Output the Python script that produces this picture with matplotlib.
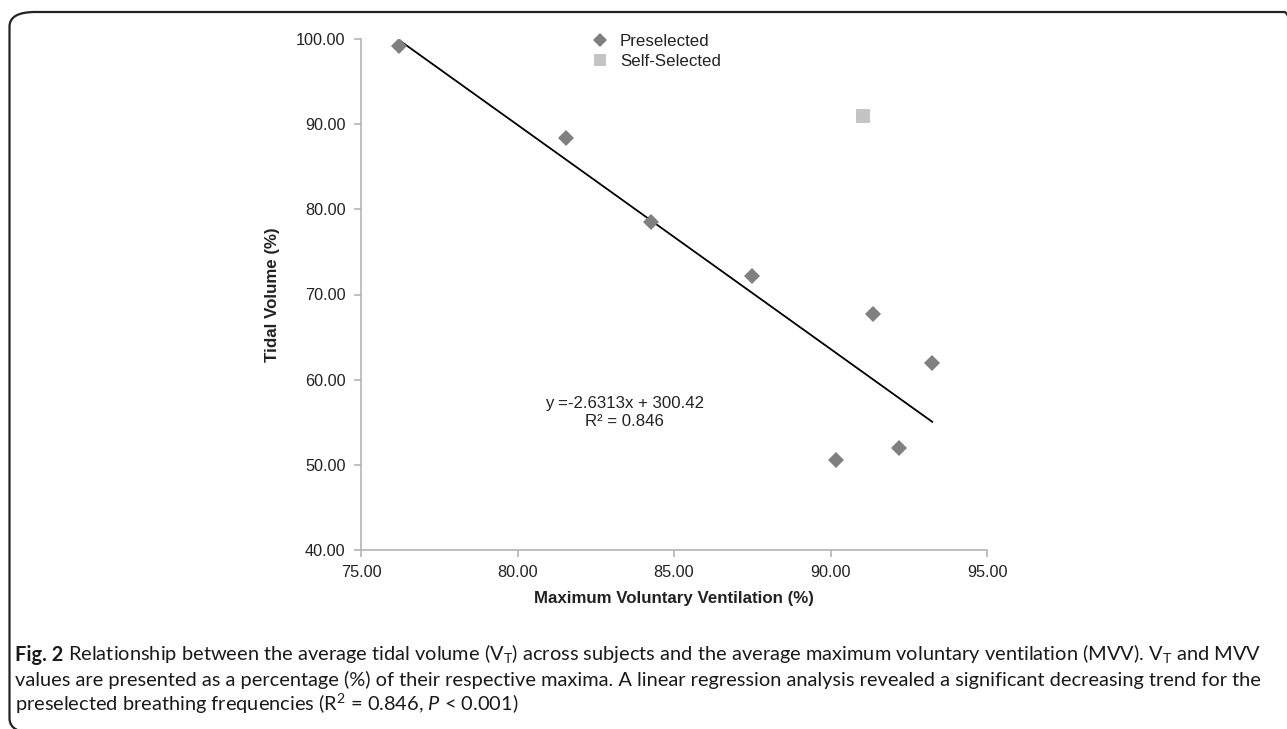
import matplotlib
matplotlib.use("Agg")
import matplotlib.pyplot as plt
import numpy as np
from matplotlib.patches import FancyBboxPatch
from matplotlib.lines import Line2D

# ---- data ----
pre_x = [76.21, 81.55, 84.27, 87.48, 91.37, 93.25, 92.19, 90.19]
pre_y = [99.21, 88.40, 78.55, 72.17, 67.71, 62.00, 51.94, 50.57]
self_x = [91.05]
self_y = [91.00]
slope, intercept = -2.6313, 300.42
x_ticks = [75, 80, 85, 90, 95]
y_ticks = [40, 50, 60, 70, 80, 90, 100]
series_names = ["Preselected", "Self-Selected"]

plt.rcParams['font.family'] = ['Liberation Sans', 'DejaVu Sans']
plt.rcParams['mathtext.fontset'] = 'custom'
plt.rcParams['mathtext.rm'] = 'Lato'
plt.rcParams['mathtext.it'] = 'Lato:italic'

W, H = 1287, 729
fig = plt.figure(figsize=(W / 100, H / 100), dpi=100)

# outer rounded frame (right side falls outside the image)
frame = FancyBboxPatch((9.5 / W, 1 - 733 / H), (1310 - 9.5) / W, (733 - 12) / H,
                       boxstyle="round,pad=0,rounding_size=0.02",
                       transform=fig.transFigure, fill=False,
                       edgecolor='#222222', linewidth=1.6, clip_on=False)
fig.patches.append(frame)

ax = fig.add_axes([361 / W, 1 - 550 / H, (987 - 361) / W, (550 - 39) / H])
ax.set_xlim(75, 95)
ax.set_ylim(40, 100)

spine_c = '#b4b4b4'
for s in ['top', 'right']:
    ax.spines[s].set_visible(False)
for s in ['left', 'bottom']:
    ax.spines[s].set_color(spine_c)
    ax.spines[s].set_linewidth(1.2)
ax.set_xticks(x_ticks)
ax.set_yticks(y_ticks)
ax.set_xticklabels([f"{v:.2f}" for v in x_ticks])
ax.set_yticklabels([f"{v:.2f}" for v in y_ticks])
ax.tick_params(axis='both', colors=spine_c, labelcolor='#222222', labelsize=11.7,
               length=5, width=1.2, direction='out')
ax.tick_params(axis='x', pad=6)
ax.tick_params(axis='y', pad=6)

# trendline
xl = np.array([min(pre_x), max(pre_x)])
ax.plot(xl, slope * xl + intercept, color='black', linewidth=1.3, zorder=2)

ax.plot(pre_x, pre_y, linestyle='none', marker='D', markersize=8.5,
        color='#808080', markeredgewidth=0, zorder=3)
ax.plot(self_x, self_y, linestyle='none', marker='s', markersize=9.5,
        color='#c4c4c4', markeredgewidth=0, zorder=3)

ax.text(83.42, 56.15, f"y =-{abs(slope):.4f}x + {intercept:.2f}\nR² = 0.846",
        ha='center', va='center', fontsize=12.1, color='#222222', linespacing=1.25)

ax.set_xlabel("Maximum Voluntary Ventilation (%)", fontsize=12.2, fontweight='bold',
              color='#222222', labelpad=8)
ax.set_ylabel("Tidal Volume (%)", fontsize=12.2, fontweight='bold',
              color='#222222', labelpad=12)

handles = [Line2D([], [], linestyle='none', marker='D', markersize=7.5, color='#808080', markeredgewidth=0),
           Line2D([], [], linestyle='none', marker='s', markersize=8.5, color='#c4c4c4', markeredgewidth=0)]
fig.legend(handles, series_names, loc='upper left',
           bbox_to_anchor=(592 / W, 1 - 34 / H), frameon=False, fontsize=12.2,
           handlelength=1.0, handletextpad=0.65, labelspacing=0.3, borderpad=0,
           borderaxespad=0, labelcolor='#222222')

# caption (font size fitted so the second line spans its measured width)
cap_font = ['Lato', 'Liberation Sans', 'DejaVu Sans']
line2 = "values are presented as a percentage (%) of their respective maxima. A linear regression analysis revealed a significant decreasing trend for the"
renderer = fig.canvas.get_renderer()
probe = fig.text(0, 0, line2, fontsize=10, family=cap_font)
pw = probe.get_window_extent(renderer).width
probe.remove()
cs = 10 * 1250.0 / pw

cap_c = '#1a1a1a'
t1 = fig.text(15 / W, 1 - 661 / H, "Fig. 2", fontsize=cs, fontweight='bold',
              family=cap_font, va='baseline', color=cap_c)
ax.annotate(" Relationship between the average tidal volume (V$_\\mathregular{T}$) across subjects and the average maximum voluntary ventilation (MVV). V$_\\mathregular{T}$ and MVV",
            xy=(1, 0), xycoords=t1, ha='left', va='bottom', fontsize=cs,
            family=cap_font, color=cap_c, annotation_clip=False)
fig.text(15 / W, 1 - 686 / H, line2,
         fontsize=cs, family=cap_font, va='baseline', color=cap_c)
fig.text(15 / W, 1 - 711 / H,
         "preselected breathing frequencies (R$^\\mathregular{2}$ = 0.846, $\\mathit{P}$ < 0.001)",
         fontsize=cs, family=cap_font, va='baseline', color=cap_c)

fig.savefig("out.png", dpi=100)
